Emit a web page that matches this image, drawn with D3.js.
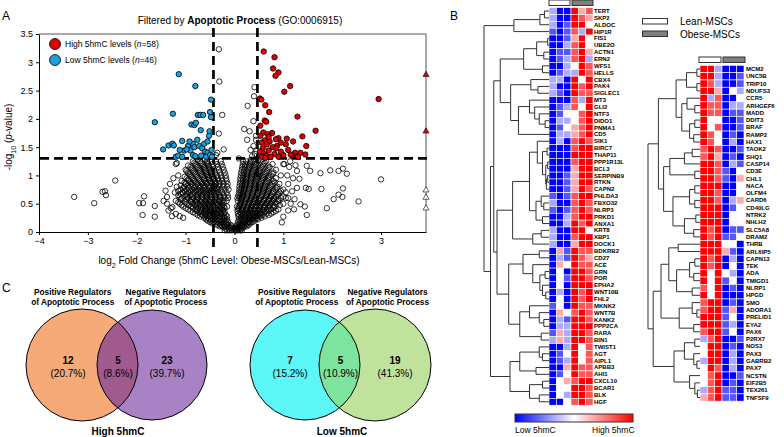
<!DOCTYPE html>
<html><head><meta charset="utf-8">
<script src="https://cdn.jsdelivr.net/npm/d3@7"></script>
<style>body{margin:0;background:#fff}svg{font-family:Arial,"Liberation Sans",sans-serif}</style>
</head><body><svg id="c" width="784" height="437"></svg>
<script>
// ---------------- DATA ----------------
const xTicks=[-4,-3,-2,-1,0,1,2,3];
const yTicks=[0,0.5,1,1.5,2,2.5,3,3.5];
const fcCut=[-0.43,0.47];
const pCut=1.301;
const highPts=[[0.60,3.19],[0.82,3.09],[0.79,2.89],[0.90,2.82],[0.84,2.76],[1.14,2.58],[1.02,2.48],[0.52,2.36],[0.55,2.34],[2.95,2.35],[0.63,2.24],[0.71,2.12],[1.29,2.04],[0.62,1.97],[0.65,1.95],[0.53,1.88],[1.66,1.79],[0.59,1.76],[0.77,1.75],[0.68,1.73],[1.39,1.69],[0.53,1.70],[0.90,1.66],[1.07,1.65],[0.85,1.64],[0.62,1.62],[0.72,1.60],[0.55,1.58],[1.47,1.52],[0.87,1.52],[0.66,1.55],[0.78,1.50],[0.58,1.48],[1.35,1.40],[1.24,1.40],[1.45,1.37],[0.70,1.44],[0.95,1.42],[1.10,1.45],[0.52,1.42],[0.60,1.38],[0.82,1.38],[1.00,1.36],[1.18,1.35],[0.66,1.34],[0.74,1.33],[0.90,1.33],[1.30,1.33],[0.56,1.33],[0.63,1.31],[0.85,1.48],[1.05,1.55],[0.95,1.58],[1.20,1.60],[0.70,1.68],[1.15,1.37]];
const lowPts=[[-1.14,2.79],[-0.80,2.58],[-0.48,2.34],[-1.26,2.09],[-1.63,1.94],[-0.75,2.07],[-0.70,2.07],[-0.64,2.07],[-0.50,2.12],[-0.48,2.03],[-0.88,1.90],[-0.82,1.89],[-0.79,1.93],[-0.69,1.80],[-0.51,1.78],[-0.52,1.70],[-1.46,1.46],[-1.35,1.53],[-1.27,1.56],[-1.24,1.53],[-1.07,1.61],[-1.03,1.44],[-0.95,1.52],[-0.85,1.56],[-0.82,1.50],[-0.90,1.44],[-0.76,1.63],[-0.72,1.52],[-0.66,1.48],[-0.60,1.42],[-0.55,1.40],[-1.20,1.33],[-1.15,1.35],[-1.07,1.33],[-0.85,1.36],[-0.80,1.34],[-0.68,1.35],[-0.58,1.33],[-0.50,1.36],[-0.47,1.45],[-0.62,1.56],[-0.98,1.46],[-1.12,1.45],[-0.92,1.60],[-0.55,1.60],[-0.46,1.33]];
const openBandsA=[
[0.03,[-0.15,-0.1,-0.05,0,0.03,0.05,0.08,0.12,-0.2,0.15]],
[0.1,[-0.3,-0.25,-0.2,-0.12,-0.05,0.08,0.14,0.2,0.25]],
[0.15,[-0.45,-0.38,-0.3,-0.22,-0.16,0.1,0.18,0.26,0.32]],
[0.2,[-0.55,-0.48,-0.4,-0.33,-0.25,-0.18,0.12,0.2,0.28,0.35,0.42]],
[0.25,[-0.62,-0.55,-0.47,-0.4,-0.32,-0.2,0.13,0.22,0.3,0.38,0.46,0.55]],
[0.3,[-0.75,-0.66,-0.58,-0.5,-0.42,-0.34,-0.26,-0.18,0.1,0.17,0.25,0.33,0.41,0.5,0.58,0.7]],
[0.35,[-0.85,-0.72,-0.63,-0.55,-0.46,-0.38,-0.29,-0.2,0.12,0.2,0.28,0.36,0.45,0.53,0.62,0.8]],
[0.4,[-0.95,-0.8,-0.7,-0.6,-0.52,-0.43,-0.35,-0.25,0.08,0.15,0.24,0.32,0.4,0.48,0.57,0.66,0.75,0.9]],
[0.45,[-1.05,-0.88,-0.78,-0.68,-0.6,-0.5,-0.41,-0.3,-0.22,0.1,0.18,0.27,0.35,0.44,0.52,0.6,0.7,0.82]],
[0.5,[-1.12,-0.98,-0.85,-0.75,-0.64,-0.55,-0.46,-0.36,-0.27,0.12,0.2,0.3,0.38,0.47,0.55,0.65,0.74,0.86,1.0]],
[0.55,[-1.2,-1.02,-0.9,-0.8,-0.7,-0.6,-0.52,-0.42,-0.32,-0.24,0.14,0.22,0.32,0.4,0.5,0.6,0.7,0.78,0.9]],
[0.6,[-1.08,-0.95,-0.84,-0.75,-0.65,-0.56,-0.47,-0.38,-0.28,0.15,0.25,0.34,0.44,0.53,0.63,0.72,0.82,0.95,1.1]],
[0.65,[-1.15,-1.0,-0.9,-0.78,-0.68,-0.58,-0.5,-0.4,-0.3,0.17,0.27,0.36,0.46,0.56,0.66,0.76,0.88]],
[0.7,[-1.22,-1.06,-0.94,-0.82,-0.72,-0.62,-0.52,-0.43,-0.33,0.18,0.28,0.38,0.48,0.58,0.68,0.8,0.92]],
[0.75,[-1.1,-0.98,-0.86,-0.75,-0.65,-0.55,-0.45,-0.35,0.2,0.3,0.4,0.5,0.6,0.7,0.84,1.0]],
[0.8,[-1.18,-1.03,-0.9,-0.8,-0.7,-0.6,-0.5,-0.4,0.21,0.31,0.41,0.5,0.62,0.74,0.88]],
[0.85,[-1.0,-0.88,-0.76,-0.66,-0.56,-0.46,-0.38,0.22,0.32,0.42,0.52,0.64,0.78,0.92]],
[0.9,[-1.08,-0.94,-0.82,-0.7,-0.6,-0.5,-0.4,0.23,0.33,0.44,0.55,0.67,0.8]],
[0.95,[-0.98,-0.86,-0.74,-0.62,-0.52,-0.42,0.24,0.34,0.46,0.58,0.7,0.85]],
[1.0,[-1.15,-0.9,-0.78,-0.66,-0.55,-0.45,0.25,0.35,0.47,0.6,0.75,0.95]],
[1.05,[-0.95,-0.82,-0.7,-0.58,-0.48,0.26,0.37,0.5,0.64,0.8]],
[1.1,[-1.0,-0.86,-0.72,-0.6,-0.5,0.28,0.4,0.52,0.68,0.85]],
[1.15,[-0.9,-0.76,-0.62,-0.52,0.3,0.42,0.56,0.72]],
[1.2,[-1.2,-0.8,-0.66,-0.54,0.31,0.44,0.6,0.78,1.0]],
[1.25,[-0.85,-0.7,-0.56,0.33,0.48,0.65]]];
const openBandsB=[
[0.06,[-0.18,-0.12,-0.07,-0.02,0.02,0.06,0.1,0.14]],
[0.08,[-0.22,-0.14,-0.08,0.01,0.06,0.11,0.18]],
[0.125,[-0.35,-0.28,-0.21,-0.14,-0.08,0.05,0.11,0.17,0.23,0.29]],
[0.175,[-0.5,-0.42,-0.35,-0.27,-0.2,-0.13,0.07,0.14,0.22,0.3,0.37]],
[0.225,[-0.58,-0.51,-0.44,-0.36,-0.29,-0.22,-0.15,0.09,0.17,0.25,0.33,0.4,0.48]],
[0.275,[-0.7,-0.6,-0.52,-0.44,-0.37,-0.29,-0.22,-0.15,0.08,0.15,0.22,0.29,0.36,0.43,0.52,0.62]],
[0.325,[-0.8,-0.69,-0.6,-0.52,-0.44,-0.36,-0.28,-0.22,0.07,0.14,0.22,0.3,0.38,0.46,0.55,0.66,0.75]],
[0.375,[-0.9,-0.77,-0.67,-0.58,-0.5,-0.41,-0.32,-0.23,0.06,0.16,0.25,0.33,0.42,0.5,0.59,0.7,0.85]],
[0.425,[-1.0,-0.85,-0.74,-0.65,-0.56,-0.47,-0.38,-0.28,-0.2,0.08,0.17,0.26,0.34,0.43,0.51,0.62,0.72,0.8]],
[0.475,[-1.08,-0.93,-0.81,-0.71,-0.61,-0.52,-0.43,-0.34,-0.25,0.11,0.19,0.28,0.36,0.45,0.53,0.62,0.72,0.8,0.93]],
[0.525,[-1.15,-1.0,-0.88,-0.78,-0.67,-0.58,-0.49,-0.4,-0.3,-0.22,0.13,0.21,0.3,0.39,0.48,0.57,0.67,0.76,0.84]],
[0.575,[-1.1,-0.98,-0.87,-0.77,-0.67,-0.58,-0.49,-0.4,-0.3,0.14,0.24,0.33,0.42,0.51,0.61,0.7,0.8,0.9]],
[0.625,[-1.12,-0.97,-0.86,-0.76,-0.66,-0.57,-0.48,-0.39,-0.29,0.16,0.26,0.35,0.45,0.55,0.65,0.74,0.85,1.0]],
[0.675,[-1.1,-0.97,-0.86,-0.75,-0.65,-0.56,-0.47,-0.38,0.17,0.27,0.37,0.47,0.57,0.67,0.78,0.9]],
[0.725,[-1.15,-1.02,-0.9,-0.79,-0.69,-0.59,-0.49,-0.4,0.19,0.29,0.39,0.49,0.59,0.69,0.8,0.95]],
[0.775,[-1.05,-0.93,-0.83,-0.72,-0.62,-0.52,-0.42,-0.36,0.2,0.3,0.4,0.5,0.61,0.72,0.86]],
[0.825,[-1.1,-0.96,-0.85,-0.74,-0.63,-0.53,-0.43,0.22,0.32,0.42,0.52,0.63,0.76]],
[0.875,[-1.02,-0.9,-0.79,-0.68,-0.58,-0.48,-0.39,0.23,0.33,0.43,0.54,0.66,0.82]],
[0.925,[-0.95,-0.84,-0.72,-0.62,-0.52,-0.43,0.24,0.34,0.45,0.57,0.7]],
[0.975,[-1.02,-0.88,-0.76,-0.64,-0.54,-0.44,0.25,0.35,0.46,0.59,0.72]],
[1.025,[-0.92,-0.8,-0.68,-0.57,-0.47,0.26,0.36,0.48,0.62,0.78]],
[1.075,[-0.98,-0.84,-0.71,-0.59,-0.49,0.27,0.38,0.51,0.66]],
[1.125,[-0.88,-0.74,-0.61,-0.51,0.29,0.41,0.54,0.7]],
[1.175,[-0.95,-0.78,-0.64,-0.53,0.3,0.43,0.58]],
[1.225,[-0.82,-0.68,-0.55,0.32,0.46,0.62]],
[1.28,[-0.75,-0.6,0.34,0.5]]];
const openBandsC=[
[0.45,[-0.15,0.05]],[0.55,[-0.16,0.07]],[0.6,[-0.2,-0.13,0.06,0.1]],[0.65,[-0.22,-0.14,0.08,0.12]],
[0.7,[-0.25,-0.16,0.09,0.13]],[0.75,[-0.28,-0.2,-0.12,0.1,0.14]],[0.8,[-0.32,-0.24,-0.15,0.1,0.15]],
[0.85,[-0.3,-0.22,-0.14,0.11,0.16]],[0.9,[-0.32,-0.25,-0.16,0.12,0.17]],[0.95,[-0.34,-0.26,-0.17,0.12,0.17]],
[1.0,[-0.36,-0.28,-0.18,0.13,0.18]],[1.05,[-0.4,-0.3,-0.2,0.14,0.19]],[1.1,[-0.42,-0.32,-0.22,0.15,0.2]],
[1.15,[-0.44,-0.34,-0.24,0.16,0.21]],[1.2,[-0.45,-0.36,-0.26,0.17,0.22]],[1.25,[-0.46,-0.38,-0.28,0.18,0.24]]];
const openExtra=[[-3.28,0.62],[-2.87,0.51],[-2.70,0.71],[-2.65,0.72],[-2.63,0.65],[-2.44,0.91],[-1.95,0.51],[-1.87,0.51],[-1.85,0.63],[-1.88,0.30],[-1.63,0.46],[-1.63,0.27],
[-1.41,0.73],[-1.38,0.50],[-1.30,0.42],[-1.27,0.44],[-1.35,0.38],[-1.18,1.22],[-1.25,0.95],[-1.32,0.85],[-1.38,0.62],[-1.20,0.32],[-1.12,0.28],[-1.05,0.25],[-1.28,0.28],[-1.45,0.55],
[1.76,1.04],[1.96,1.09],[2.13,1.08],[2.22,1.12],[2.30,1.03],[1.78,0.76],[1.89,0.42],[2.03,0.58],[2.13,0.66],[2.22,0.77],[2.21,0.62],[2.54,0.54],[3.00,0.93],
[1.33,0.94],[1.28,0.78],[1.23,0.58],[1.35,0.49],[1.44,0.45],[1.48,0.30],[1.52,0.76],[1.46,0.78],[1.48,1.17],[1.55,1.08],[1.28,1.08],[1.14,1.25],[0.97,0.17],[1.00,0.27],[1.05,0.60],
[1.05,0.70],[1.10,0.85],[1.15,0.50],[1.20,0.95],[1.08,1.00],[1.12,1.15],[1.02,1.20],[1.25,1.18],[1.18,0.72],[1.10,0.38],[1.22,0.40],
[-0.32,3.23],[-0.31,2.66],[0.41,2.56],[0.40,2.40],[0.27,2.23],[-0.25,2.07],[0.39,1.96],[0.20,1.82],[-0.32,1.74],[0.31,1.78],[0.26,1.63],[0.44,1.63],[0.39,1.52],[0.45,1.43],[0.33,1.45],[0.42,1.38],[0.36,1.34],[-0.22,1.46],[0.09,1.30],[-0.38,1.36],[-0.35,1.40],[0.44,1.70]];
const triHighY=[2.78,1.78];
const triOpenY=[0.74,0.61,0.42];

const leftGenes=["TERT","SKP2","ALDOC","HIP1R","FIS1","UBE2O","ACTN1","ERN2","WFS1","HELLS","CBX4","PAK4","SIGLEC1","MT3","GLI2","NTF3","DIDO1","PNMA1","CD5","SIK1","BIRC7","THAP11","PPP1R13L","BCL3","SERPINB9","RTKN","CAPN2","PHLDA3","FBXO32","NLRP3","PRKD1","ANXA1","KRT8","XBP1","DOCK1","BDKRB2","CD27","ACE","GRN","POR","EPHA2","WNT10B","FHL2","MKNK2","WNT7B","KANK2","PPP2CA","RARA","BIN1","TWIST1","AGT","AIPL1","APBB3","AHI1","CXCL10","BCAR1","BLK","HGF"];
const leftValues=[[-1,-3,-3,3,1,2],[-1,-3,-3,3,2,1],[-1,-3,-2,3,3,0],[-2,-3,-2,2,-1,3],[-3,-3,-2,1,3,0],[-3,-3,-1,2,3,0],[-3,-2,-2,2,3,1],[-3,-2,-1,2,3,-1],[-3,-3,-1,0,3,2],[-3,-2,-1,-1,3,2],
[-1,-1,-3,3,0,3],[-1,-3,-3,3,2,3],[-1,-2,-3,3,2,2],[-3,-3,-3,2,-1,3],[-3,-2,-1,2,0,3],[-3,-2,0,0,2,3],[-3,-1,-1,0,2,3],[-3,-2,0,1,2,3],[-3,-1,-1,1,2,3],[-3,-1,-3,2,3,2],
[-3,-3,-3,2,3,3],[-3,-3,-3,3,3,3],[-3,-3,-3,2,3,3],[-3,-3,-3,1,3,3],[-3,-3,-2,1,3,3],[-3,-3,-2,1,3,3],[-3,-3,-2,1,3,2],[-2,-3,-2,2,3,3],[-1,-3,-3,2,3,2],[-2,-3,-2,2,3,2],
[-3,-3,-1,2,3,3],[-3,-3,-1,3,2,3],[-1,-3,-3,3,3,0],[-1,-3,-3,2,3,3],[-1,-3,-3,1,3,3],[-3,1,-2,3,2,2],[-3,-1,-2,3,2,1],[-3,1,0,3,2,2],[-3,0,-3,3,3,2],[-3,0,-2,3,3,2],
[-3,0,-3,3,3,3],[-3,-1,-3,3,2,3],[-3,0,-3,3,2,3],[-2,0,-3,3,2,2],[-3,1,0,2,3,2],[-3,-1,-2,3,3,2],[-3,-1,-1,3,3,3],[-2,1,-1,3,3,2],[-1,1,-1,3,3,2],[-3,-3,-1,3,0,2],
[-3,-2,0,3,0,2],[-3,-2,-1,3,0,2],[-3,-3,1,3,2,2],[-3,-2,0,3,2,2],[-3,0,1,2,3,3],[-3,0,0,3,3,2],[-3,0,-1,3,3,2],[-3,-3,0,2,3,2]];
const rightGenes=["MCM2","UNC5B","TRIP10","NDUFS3","CCR5","ARHGEF6","MADD","DDIT3","BRAF","RAMP2","HAX1","TAOK2","SHQ1","CASP14","CD3E","CHL1","NACA","OLFM4","CARD6","CD40LG","NTRK2","NHLH2","SLC5A8","DRAM2","THRB","ARL6IP5","CAPN13","TEK","ADA","TMIGD1","NLRP1","HPGD","SMO","ADORA1","PRELID1","EYA2","PAX6","P2RX7","NOS3","PAX3","GABRB2","PAX7","NCSTN","EIF2B5","TEX261","TNFSF9"];
const rightValues=[[3,3,-1,-3,-3,-3],[3,3,-1,-3,-3,-2],[3,2,-1,-3,-3,-2],[3,3,1,-3,0,-1],[3,-1,2,-3,-3,0],[3,2,2,-3,-1,-1],[3,2,2,-3,-2,-2],[3,0,0,-3,-3,-2],[3,0,2,-3,-3,-2],[3,2,0,-3,-2,-3],
[3,2,0,-3,-1,-3],[2,3,2,-3,-3,-2],[2,3,1,-3,-2,-3],[3,3,2,-3,-1,-2],[3,3,2,-2,-3,0],[3,3,2,-2,-3,1],[3,3,3,-3,-3,0],[3,3,2,-3,-3,0],[3,3,2,-3,-1,1],[3,3,3,-3,-2,0],
[3,3,3,-3,0,0],[3,3,3,-3,0,0],[3,2,3,-3,-2,-2],[3,2,3,-2,-2,0],[3,3,3,0,0,-3],[3,3,3,1,-2,-3],[3,2,3,-3,-1,-3],[3,2,3,-3,0,-3],[3,0,3,0,-1,-3],[3,0,3,-2,0,-3],
[2,0,3,-3,-2,-3],[3,0,3,-3,-3,-3],[2,3,3,-3,-2,-3],[2,3,3,-2,1,-3],[3,3,3,-2,0,-3],[3,3,3,-2,-1,-3],[2,3,3,-2,0,-3],[-1,2,3,-3,-3,-2],[0,3,3,-3,-2,-3],[0,3,3,-3,-1,-3],
[-1,3,3,-3,-1,-3],[0,3,2,-3,-1,-3],[0,2,3,-3,-3,-2],[0,2,3,-3,-2,-3],[-1,2,3,-2,-2,-3],[1,2,3,-2,-2,-3]];
// dendrograms: [height, childA, childB]; numbers are row indices
const lA1=[0.54,[0.14,[0.07,0,1],2],3];
const lG1=[0.39,[0.19,[0.02,4,5],[0.08,6,7]],[0.1,8,9]];
const lG2=[0.59,[0.28,10,[0.17,11,12]],[0.47,[0.3,13,[0.22,14,[0.15,15,[0.06,16,17]]]],18]];
const lH1=[0.56,[0.3,[0.18,19,[0.1,[0.03,20,21],[0.05,[0.02,22,23],[0.04,[0.02,24,25],26]]]],[0.2,[0.12,27,[0.08,28,29]],[0.1,30,31]]],[0.25,[0.12,32,33],34]];
const lH2=[0.62,[0.4,[0.15,35,36],[0.25,37,[0.14,[0.06,38,39],[0.1,40,[0.05,41,42]]]]],[0.45,[0.3,43,[0.15,44,[0.08,45,46]]],[0.12,47,48]]];
const lU=[0.6,[0.45,[0.15,49,[0.1,50,51]],[0.2,52,53]],[0.3,[0.1,54,55],[0.15,56,57]]];
const leftTree=[1,lA1,[0.9,[0.85,[0.75,lG1,lG2],[0.8,lH1,lH2]],lU]];
const rA=[0.46,[0.26,[0.06,0,1],[0.06,2,3]],[0.35,[0.25,4,[0.1,5,6]],[0.2,[0.1,7,8],[0.12,9,10]]]];
const rB=[0.58,[0.3,[0.15,11,12],13],[0.1,14,15]];
const rC=[0.52,[0.2,[0.1,16,17],[0.1,18,19]],[0.3,[0.08,20,21],[0.12,22,23]]];
const rD=[0.6,[0.42,24,25],[0.45,[0.2,[0.1,26,27],[0.12,28,29]],[0.15,30,31]]];
const rE=[0.4,[0.15,32,[0.06,33,34]],[0.12,35,36]];
const rF=[0.5,[0.3,[0.1,37,38],[0.12,39,[0.06,40,41]]],[0.2,42,[0.1,43,[0.05,44,45]]]];
const rightTree=[1,[0.8,rA,[0.7,rB,rC]],[0.9,[0.75,rD,rE],rF]];
const groups=["Lean-MSCs","Obese-MSCs"];
const venns=[
 {name:"High 5hmC",counts:[12,5,23],pcts:["(20.7%)","(8.6%)","(39.7%)"],cols:["#f5aa78","#a982c6","#a15a8d"]},
 {name:"Low 5hmC",counts:[7,5,19],pcts:["(15.2%)","(10.9%)","(41.3%)"],cols:["#5ef7f7","#bfe39c","#7ce49c"]}];
const vennSets=["Positive Regulators|of Apoptotic Process","Negative Regulators|of Apoptotic Process"];

// ---------------- DRAW ----------------
const svg=d3.select("#c");
const T=(x,y,s,o={})=>{const t=svg.append("text").attr("x",x).attr("y",y).text(s).style("font-size",(o.fs||10)+"px");
 if(o.a)t.attr("text-anchor",o.a); if(o.b)t.style("font-weight","bold"); if(o.db)t.attr("dominant-baseline",o.db); return t;};
T(2,20,"A",{fs:12}); T(450,20,"B",{fs:12}); T(2,292,"C",{fs:12});

// Panel A
const x=d3.scaleLinear().domain([-4,3.92]).range([39,426]);
const y=d3.scaleLinear().domain([0,3.5]).range([232,34]);
const ttl=svg.append("text").attr("x",240).attr("y",24).attr("text-anchor","middle").style("font-size","10px");
ttl.append("tspan").text("Filtered by ");ttl.append("tspan").style("font-weight","bold").text("Apoptotic Process");ttl.append("tspan").text(" (GO:0006915)");
const ax=svg.append("g").attr("transform","translate(0,232)").call(d3.axisBottom(x).tickValues(xTicks).tickSize(3).tickSizeOuter(0).tickFormat(d3.format("d")));
const ay=svg.append("g").attr("transform","translate(39,0)").call(d3.axisLeft(y).tickValues(yTicks).tickSize(3).tickSizeOuter(0).tickFormat(d=>d));
[ax,ay].forEach(a=>{a.selectAll("text").style("font-size","9px").attr("fill","#000");a.selectAll("path,line").attr("stroke","#000");});
svg.append("path").attr("d",`M${x(-4)},${y(3.5)}H${x(3.92)}V${y(0)}`).attr("fill","none").attr("stroke","#555").attr("stroke-width",1);
const yl=svg.append("text").attr("transform","translate(12,137) rotate(-90)").attr("text-anchor","middle").style("font-size","10px");
yl.append("tspan").text("-log");yl.append("tspan").attr("baseline-shift","sub").style("font-size","7px").text("10");yl.append("tspan").text(" (");yl.append("tspan").style("font-style","italic").text("p");yl.append("tspan").text("-value)");
const xl=svg.append("text").attr("x",229).attr("y",264).attr("text-anchor","middle").style("font-size","10px");
xl.append("tspan").text("log");xl.append("tspan").attr("baseline-shift","sub").style("font-size","7px").text("2");xl.append("tspan").text(" Fold Change (5hmC Level: Obese-MSCs/Lean-MSCs)");

const openPts=[];[openBandsA,openBandsB,openBandsC].forEach(B=>B.forEach(([yy,xs])=>xs.forEach(xx=>openPts.push([xx,yy]))));openExtra.forEach(p=>openPts.push(p));
const pt=(data,fill)=>svg.append("g").selectAll("circle").data(data).join("circle").attr("cx",d=>x(d[0])).attr("cy",d=>y(d[1])).attr("r",2.7).attr("fill",fill).attr("stroke","#000").attr("stroke-width",0.8);
pt(openPts,"none");
const dash={"stroke":"#000","stroke-width":2.7,"stroke-dasharray":"9,5"};
fcCut.forEach(v=>{const l=svg.append("line").attr("x1",x(v)).attr("x2",x(v)).attr("y1",28).attr("y2",252);Object.entries(dash).forEach(([k,w])=>l.attr(k,w));});
{const l=svg.append("line").attr("x1",40).attr("x2",432).attr("y1",y(pCut)).attr("y2",y(pCut));Object.entries(dash).forEach(([k,w])=>l.attr(k,w));}
pt(lowPts,"#1ea0dc");pt(highPts,"#e40000");
const tri=d3.symbol().type(d3.symbolTriangle).size(16);
svg.append("g").selectAll("path").data(triHighY).join("path").attr("d",tri).attr("transform",d=>`translate(${x(3.92)},${y(d)})`).attr("fill","#e40000").attr("stroke","#000").attr("stroke-width",0.6);
svg.append("g").selectAll("path").data(triOpenY).join("path").attr("d",tri).attr("transform",d=>`translate(${x(3.92)},${y(d)})`).attr("fill","#fff").attr("stroke","#000").attr("stroke-width",0.6);
[["#e40000","High 5hmC levels (","=58)"],["#1ea0dc","Low 5hmC levels (","=46)"]].forEach((l,i)=>{
 svg.append("circle").attr("cx",55).attr("cy",44+i*16).attr("r",5.5).attr("fill",l[0]).attr("stroke","#000").attr("stroke-width",0.8);
 const t=svg.append("text").attr("x",65).attr("y",47+i*16).style("font-size","8.5px");
 t.append("tspan").text(l[1]);t.append("tspan").style("font-style","italic").text("n");t.append("tspan").text(l[2]);});

// Panel B
const heat=d3.scaleLinear().domain([-3,0,3]).range(["#0000ff","#ffffff","#ff0000"]);
function drawHeat(genes,vals,x0,top,rh,labX){
 const cw=44/6;
 const g=svg.append("g");
 vals.forEach((row,i)=>row.forEach((v,j)=>g.append("rect").attr("x",x0+j*cw).attr("y",top+i*rh).attr("width",cw).attr("height",rh).attr("fill",heat(v)).attr("stroke","#fff").attr("stroke-width",0.6)));
 genes.forEach((s,i)=>svg.append("text").attr("x",labX).attr("y",top+(i+0.5)*rh).attr("dominant-baseline","central").style("font-size","6px").style("font-weight","bold").text(s));
}
function drawTree(tree,top,rh,xLeaf,xRoot){
 const hx=d3.scaleLinear().domain([0,1]).range([xLeaf,xRoot]);
 const g=svg.append("g").attr("fill","none").attr("stroke","#333").attr("stroke-width",1);
 (function rec(n){
  if(typeof n==="number")return{y:top+(n+0.5)*rh,x:hx(0)};
  const A=rec(n[1]),B=rec(n[2]),xx=hx(n[0]);
  g.append("path").attr("d",`M${A.x},${A.y}H${xx}V${B.y}H${B.x}`);
  return{y:(A.y+B.y)/2,x:xx};})(tree);
}
const lTop=7.6,lRh=6.855,rTop=65.35,rRh=7.3;
drawHeat(leftGenes,leftValues,549,lTop,lRh,594);
drawTree(leftTree,lTop,lRh,549,484);
drawHeat(rightGenes,rightValues,700,rTop,rRh,746);
drawTree(rightTree,rTop,rRh,700,648);
[[549,0,21,5.5],[699,57,22,5.5]].forEach(([bx,by,bw,bh])=>{
 svg.append("rect").attr("x",bx).attr("y",by).attr("width",bw).attr("height",bh).attr("fill","#fff").attr("stroke","#333").attr("stroke-width",1);
 svg.append("rect").attr("x",bx+bw+2).attr("y",by).attr("width",bw).attr("height",bh).attr("fill","#808080").attr("stroke","#333").attr("stroke-width",1);});
groups.forEach((gname,i)=>{
 svg.append("rect").attr("x",642.5).attr("y",18.5+i*12.5).attr("width",25).attr("height",5.5).attr("fill",i?"#808080":"#fff").attr("stroke","#333").attr("stroke-width",1);
 T(680,25+i*12.5,gname,{fs:10});});
const grad=svg.append("defs").append("linearGradient").attr("id","cb");
[["0%","#0000ff"],["50%","#ffffff"],["100%","#ff0000"]].forEach(([o,c])=>grad.append("stop").attr("offset",o).attr("stop-color",c));
svg.append("rect").attr("x",515).attr("y",414).attr("width",118).attr("height",8).attr("fill","url(#cb)").attr("stroke","#333").attr("stroke-width",1);
T(515,433,"Low 5hmC",{fs:8.5}); T(592,433,"High 5hmC",{fs:8.5});

// Panel C
const vg=[{c1:[82,365],c2:[152,365],r1:56,r2:55,t1:72.7,t2:165.7,cx:[68,118,167],lab:118},
          {c1:[305,365],c2:[375,365],r1:55,r2:56,t1:296.7,t2:387.5,cx:[290,340.5,395],lab:342}];
venns.forEach((v,k)=>{
 const L=vg[k];
 const g=svg.append("g");
 g.append("circle").attr("cx",L.c1[0]).attr("cy",L.c1[1]).attr("r",L.r1).attr("fill",v.cols[0]);
 g.append("circle").attr("cx",L.c2[0]).attr("cy",L.c2[1]).attr("r",L.r2).attr("fill",v.cols[1]);
 const cp=svg.append("defs").append("clipPath").attr("id","vc"+k);
 cp.append("circle").attr("cx",L.c1[0]).attr("cy",L.c1[1]).attr("r",L.r1);
 g.append("circle").attr("cx",L.c2[0]).attr("cy",L.c2[1]).attr("r",L.r2).attr("fill",v.cols[2]).attr("clip-path",`url(#vc${k})`);
 g.append("circle").attr("cx",L.c1[0]).attr("cy",L.c1[1]).attr("r",L.r1).attr("fill","none").attr("stroke","#000").attr("stroke-width",1);
 g.append("circle").attr("cx",L.c2[0]).attr("cy",L.c2[1]).attr("r",L.r2).attr("fill","none").attr("stroke","#000").attr("stroke-width",1);
 v.counts.forEach((n,i)=>{T(L.cx[i],364,n,{fs:10,b:1,a:"middle"});T(L.cx[i],377,v.pcts[i],{fs:10,a:"middle"});});
 [L.t1,L.t2].forEach((tx,i)=>{const ps=vennSets[i].split("|");T(tx,295,ps[0],{fs:8.3,b:1,a:"middle"});T(tx,305,ps[1],{fs:8.3,b:1,a:"middle"});});
 T(L.lab,435,v.name,{fs:10,b:1,a:"middle"});
});
</script></body></html>
